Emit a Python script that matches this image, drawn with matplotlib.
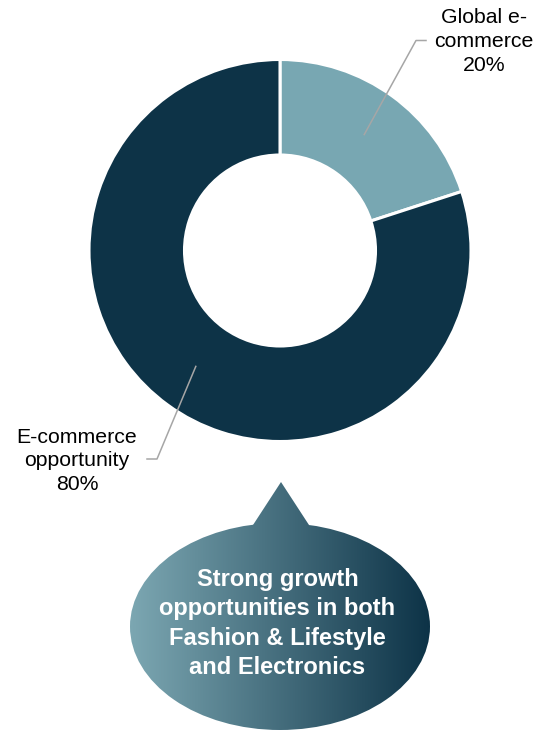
import numpy as np
import matplotlib.pyplot as plt
from matplotlib.patches import Ellipse, Polygon
from matplotlib.colors import LinearSegmentedColormap

plt.rcParams['font.family'] = ['Liberation Sans', 'DejaVu Sans']

# market split
shares = [20, 80]
share_names = ["Global e-\ncommerce", "E-commerce\nopportunity"]
share_colors = ["#78A7B2", "#0D3347"]

callout_text = "Strong growth\nopportunities in both\nFashion & Lifestyle\nand Electronics"
callout_colors = ["#7CA7B2", "#0D3347"]

W, H = 539, 733
fig = plt.figure(figsize=(W / 100, H / 100), dpi=100)
ax = fig.add_axes([0, 0, 1, 1])

# donut, drawn in pixel units
cx, cy = 280, H - 250.5
R = 191
ring = 95.5
wedges, _ = ax.pie(shares, colors=share_colors, startangle=90, counterclock=False,
                   radius=R, center=(cx, cy),
                   wedgeprops=dict(width=ring, edgecolor='white', linewidth=2.2))

# leader lines from the middle of each wedge
rm = R - ring / 2
elbows = [((416, H - 40.5), (426, H - 40.5)), ((157, H - 459), (147, H - 459))]
label_pos = [(484, H - 41.5), (77, H - 461)]
for w, val, name, (elb, end), (tx, ty) in zip(wedges, shares, share_names, elbows, label_pos):
    ang = np.deg2rad((w.theta1 + w.theta2) / 2)
    px, py = cx + rm * np.cos(ang), cy + rm * np.sin(ang)
    ax.plot([px, elb[0], end[0]], [py, elb[1], end[1]], color='#A6A6A6', lw=1.1)
    ax.text(tx, ty, f"{name}\n{val}%", ha='center', va='center', fontsize=15.3,
            color='black', linespacing=1.32)

# speech bubble with horizontal gradient
cmap = LinearSegmentedColormap.from_list('bubble', callout_colors)
grad = np.linspace(0, 1, 256).reshape(1, -1)
bubble = Ellipse((280, H - 626.5), 300, 207, facecolor='none', edgecolor='none')
pointer = Polygon([(253, H - 525), (309, H - 525), (281, H - 482)], closed=True,
                  facecolor='none', edgecolor='none')
for shape in (bubble, pointer):
    ax.add_patch(shape)
    im = ax.imshow(grad, cmap=cmap, extent=(130, 430, H - 733, H - 480),
                   aspect='auto', interpolation='bicubic')
    im.set_clip_path(shape)

ax.text(277.5, H - 623.5, callout_text, ha='center', va='center', color='white',
        fontsize=17, fontweight='bold', linespacing=1.34)

ax.set_xlim(0, W)
ax.set_ylim(0, H)
ax.set_aspect('equal')
ax.axis('off')

fig.savefig("out.png", dpi=100)
